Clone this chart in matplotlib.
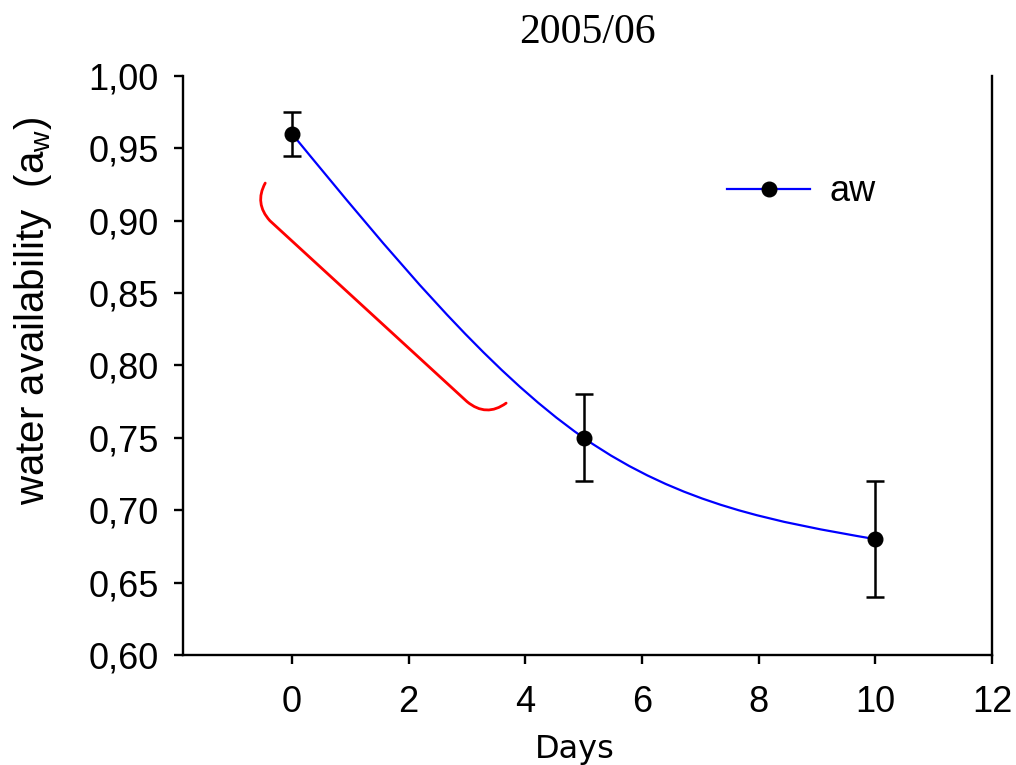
import numpy as np
import matplotlib
matplotlib.use("Agg")
import matplotlib.pyplot as plt
from matplotlib.path import Path
from matplotlib.patches import PathPatch
from matplotlib.lines import Line2D
from matplotlib.ticker import FuncFormatter

# data
days = [0, 5, 10]
aw = [0.96, 0.75, 0.68]
aw_err = [0.015, 0.03, 0.04]

x_ticks = [0, 2, 4, 6, 8, 10, 12]
y_ticks = [0.60, 0.65, 0.70, 0.75, 0.80, 0.85, 0.90, 0.95, 1.00]

# hand-drawn red bracket (annotation, in data units)
bracket_x = [-0.46, -0.65, -0.38, 3.0, 3.33, 3.67]
bracket_y = [0.926, 0.912, 0.900, 0.775, 0.764, 0.774]


def natural_spline_path(x, y):
    """Smooth curve through the points, as cubic bezier segments (natural spline)."""
    x = np.asarray(x, float)
    y = np.asarray(y, float)
    n = len(x)
    h = np.diff(x)
    A = np.zeros((n, n))
    r = np.zeros(n)
    A[0, 0] = A[-1, -1] = 1
    for i in range(1, n - 1):
        A[i, i - 1] = h[i - 1]
        A[i, i] = 2 * (h[i - 1] + h[i])
        A[i, i + 1] = h[i]
        r[i] = 6 * ((y[i + 1] - y[i]) / h[i] - (y[i] - y[i - 1]) / h[i - 1])
    M = np.linalg.solve(A, r)
    slope = np.zeros(n)
    for i in range(n - 1):
        slope[i] = (y[i + 1] - y[i]) / h[i] - h[i] * (2 * M[i] + M[i + 1]) / 6
    slope[-1] = (y[-1] - y[-2]) / h[-1] + h[-1] * (M[-2] + 2 * M[-1]) / 6
    verts = [(x[0], y[0])]
    codes = [Path.MOVETO]
    for i in range(n - 1):
        d = h[i] / 3
        verts += [(x[i] + d, y[i] + d * slope[i]),
                  (x[i + 1] - d, y[i + 1] - d * slope[i + 1]),
                  (x[i + 1], y[i + 1])]
        codes += [Path.CURVE4] * 3
    return Path(verts, codes)


fig = plt.figure(figsize=(10.16, 7.65), dpi=100)
ax = fig.add_axes([0.1801, 0.1438, 0.7963, 0.7569])

# spline curve
ax.add_patch(PathPatch(natural_spline_path(days, aw), facecolor='none',
                       edgecolor='blue', lw=1.6, zorder=2))

# points with error bars
ax.errorbar(days, aw, yerr=aw_err, fmt='o', color='black', ms=10.5,
            elinewidth=1.8, capsize=6.5, capthick=1.8, zorder=3)

# red bracket
bx, by = bracket_x, bracket_y
bracket = Path([(bx[0], by[0]), (bx[1], by[1]), (bx[2], by[2]),
                (bx[3], by[3]), (bx[4], by[4]), (bx[5], by[5])],
               [Path.MOVETO, Path.CURVE3, Path.CURVE3,
                Path.LINETO, Path.CURVE3, Path.CURVE3])
ax.add_patch(PathPatch(bracket, facecolor='none', edgecolor='red', lw=2.0,
                       capstyle='round', zorder=2))

ax.set_xlim(-1.87, 12)
ax.set_ylim(0.60, 1.00)
ax.set_xticks(x_ticks)
ax.set_yticks(y_ticks)
ax.yaxis.set_major_formatter(FuncFormatter(lambda v, p: f"{v:.2f}".replace('.', ',')))

ax.spines['top'].set_visible(False)
for s in ['left', 'right', 'bottom']:
    ax.spines[s].set_linewidth(1.7)
ax.tick_params(axis='both', direction='out', length=6.5, width=1.7,
               labelsize=26, labelcolor='black')
ax.tick_params(axis='x', pad=15)
ax.tick_params(axis='y', pad=11)
for lab in ax.get_xticklabels() + ax.get_yticklabels():
    lab.set_family('Liberation Sans')

ax.set_ylabel('water availability  (a$_\\mathregular{w}$)', fontsize=29,
              family='Liberation Sans')
ax.yaxis.set_label_coords(-0.16, 0.594)
ax.set_xlabel('Days', fontsize=23, family='DejaVu Sans', va='top')
ax.xaxis.set_label_coords(0.4845, -0.137)

ax.set_title('2005/06', fontsize=30, family='Liberation Serif', pad=24)

handle = Line2D([], [], color='blue', lw=1.6, marker='o', ms=10.5,
                mfc='black', mec='black')
ax.legend([handle], ['aw'], frameon=False, loc='center left',
          bbox_to_anchor=(0.6724, 0.7997), borderaxespad=0, borderpad=0,
          handlelength=2.3, handletextpad=0.55,
          prop={'family': 'Liberation Sans', 'size': 26})

fig.savefig('out.png', dpi=100)
